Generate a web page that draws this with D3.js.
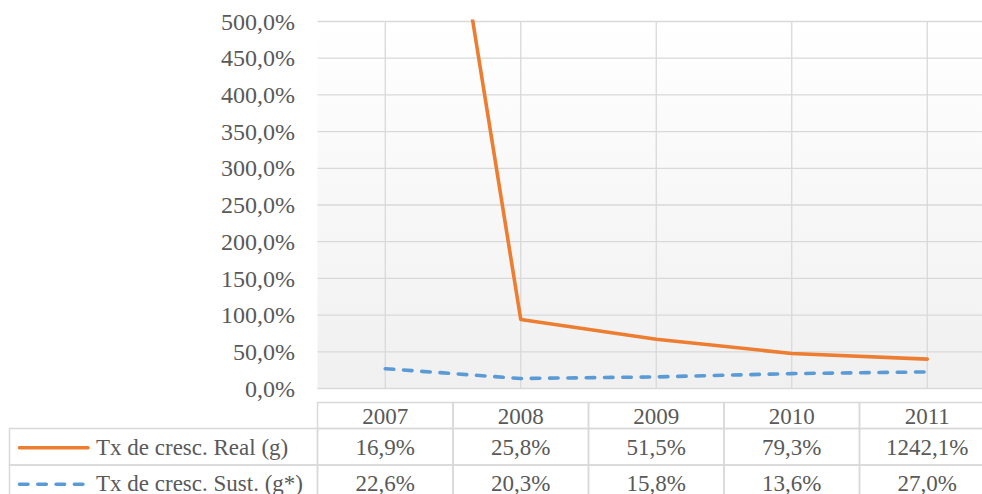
<!DOCTYPE html>
<html>
<head>
<meta charset="utf-8">
<script src="https://cdn.jsdelivr.net/npm/d3@7"></script>
<style>
  html, body { margin: 0; padding: 0; background: #fff; overflow: hidden; }
  svg { display: block; }
  svg text { font-family: "Liberation Serif", Tinos, "Times New Roman", Times, "DejaVu Serif", "Noto Serif", serif; fill: #595959; }
</style>
</head>
<body>
<svg id="chart" width="982" height="494"></svg>
<script>
// Years on the category axis
const years = ["2007", "2008", "2009", "2010", "2011"];

// Plotted growth rates (%)
const realPlotted = [1242.1, 94.0, 67.2, 47.7, 40.0];
const sustPlotted = [27.0, 13.6, 15.8, 20.3, 22.6];

// Values listed in the data table (%)
const realTable = [16.9, 25.8, 51.5, 79.3, 1242.1];
const sustTable = [22.6, 20.3, 15.8, 13.6, 27.0];

// Series names
const seriesNames = ["Tx de cresc. Real (g)", "Tx de cresc. Sust. (g*)"];

// Y axis ticks (%)
const yTicks = [0, 50, 100, 150, 200, 250, 300, 350, 400, 450, 500];

const ptBR = d3.formatLocale({ decimal: ",", thousands: ".", grouping: [3], currency: ["", ""] });
const pct = v => ptBR.format(".1f")(v) + "%";

const svg = d3.select("#chart");
const plot = { left: 317.5, right: 995, top: 21.5, bottom: 388.5 };
const tableTop = 402.5, headH = 26, rowH = 36.5, legendLeft = 9.5;

const x = d3.scaleBand().domain(years).range([plot.left, plot.right]).padding(0);
const y = d3.scaleLinear().domain([0, 500]).range([plot.bottom, plot.top]);
const cx = d => x(d) + x.bandwidth() / 2;

const defs = svg.append("defs");
const grad = defs.append("linearGradient").attr("id", "bg").attr("x1", 0).attr("x2", 0).attr("y1", 0).attr("y2", 1);
grad.append("stop").attr("offset", "0%").attr("stop-color", "#ffffff");
grad.append("stop").attr("offset", "100%").attr("stop-color", "#f0f0f0");
defs.append("clipPath").attr("id", "plotClip").append("rect")
  .attr("x", plot.left).attr("y", plot.top - 2)
  .attr("width", plot.right - plot.left).attr("height", plot.bottom - plot.top + 4);

// Plot area background
svg.append("rect")
  .attr("x", plot.left).attr("y", plot.top)
  .attr("width", plot.right - plot.left).attr("height", plot.bottom - plot.top)
  .attr("fill", "url(#bg)");

// Horizontal gridlines
svg.append("g").selectAll("line").data(yTicks).join("line")
  .attr("x1", plot.left).attr("x2", plot.right)
  .attr("y1", d => y(d)).attr("y2", d => y(d))
  .attr("stroke", "#d9d9d9").attr("stroke-width", 1.3);

// Vertical gridlines at each year
svg.append("g").selectAll("line").data(years).join("line")
  .attr("x1", d => cx(d)).attr("x2", d => cx(d))
  .attr("y1", plot.top).attr("y2", plot.bottom)
  .attr("stroke", "#d9d9d9").attr("stroke-width", 1.3);

// Y axis labels
const yAxis = d3.axisLeft(y).tickValues(yTicks).tickFormat(pct).tickSize(0).tickPadding(0);
const yG = svg.append("g").attr("transform", "translate(295,0)").call(yAxis);
yG.attr("font-family", null).attr("font-size", null);
yG.select(".domain").remove();
yG.selectAll("text").attr("font-size", 24);

// Series lines
const line = d3.line().x((d, i) => cx(years[i])).y(d => y(d));
const lines = svg.append("g").attr("clip-path", "url(#plotClip)");
lines.append("path").datum(realPlotted)
  .attr("d", line).attr("fill", "none")
  .attr("stroke", "#ed7d31").attr("stroke-width", 3.6)
  .attr("stroke-linejoin", "round").attr("stroke-linecap", "round");
lines.append("path").datum(sustPlotted)
  .attr("d", line).attr("fill", "none")
  .attr("stroke", "#5b9bd5").attr("stroke-width", 3.6)
  .attr("stroke-dasharray", "8.5 9.8").attr("stroke-linecap", "round");

// Data table
const tbl = svg.append("g");
const border = "#d9d9d9";
const rows = [
  { name: seriesNames[0], values: realTable, color: "#ed7d31", dash: null },
  { name: seriesNames[1], values: sustTable, color: "#5b9bd5", dash: "8.5 9.8" }
];
const rowTop = i => tableTop + headH + i * rowH;

// Header row (years)
tbl.selectAll("rect.head").data(years).join("rect")
  .attr("x", d => x(d)).attr("y", tableTop)
  .attr("width", x.bandwidth()).attr("height", headH)
  .attr("fill", "none").attr("stroke", border).attr("stroke-width", 1.5);
tbl.selectAll("text.head").data(years).join("text")
  .attr("x", d => cx(d)).attr("y", tableTop + headH / 2).attr("dy", "0.35em")
  .attr("text-anchor", "middle").attr("font-size", 23).text(d => d);

rows.forEach((r, i) => {
  const top = rowTop(i);
  // legend cell
  tbl.append("rect").attr("x", legendLeft).attr("y", top)
    .attr("width", plot.left - legendLeft).attr("height", rowH)
    .attr("fill", "none").attr("stroke", border).attr("stroke-width", 1.5);
  const key = tbl.append("line")
    .attr("x1", 19.5).attr("x2", 88).attr("y1", top + rowH / 2 + 1).attr("y2", top + rowH / 2 + 1)
    .attr("stroke", r.color).attr("stroke-width", 3.6).attr("stroke-linecap", "round");
  if (r.dash) key.attr("stroke-dasharray", r.dash);
  tbl.append("text").attr("x", 96).attr("y", top + rowH / 2).attr("dy", "0.35em")
    .attr("font-size", 23).text(r.name);
  // value cells
  tbl.selectAll(null).data(years).join("rect")
    .attr("x", d => x(d)).attr("y", top)
    .attr("width", x.bandwidth()).attr("height", rowH)
    .attr("fill", "none").attr("stroke", border).attr("stroke-width", 1.5);
  tbl.selectAll(null).data(r.values).join("text")
    .attr("x", (d, j) => cx(years[j])).attr("y", top + rowH / 2).attr("dy", "0.35em")
    .attr("text-anchor", "middle").attr("font-size", 23).text(d => pct(d));
});
</script>
</body>
</html>
